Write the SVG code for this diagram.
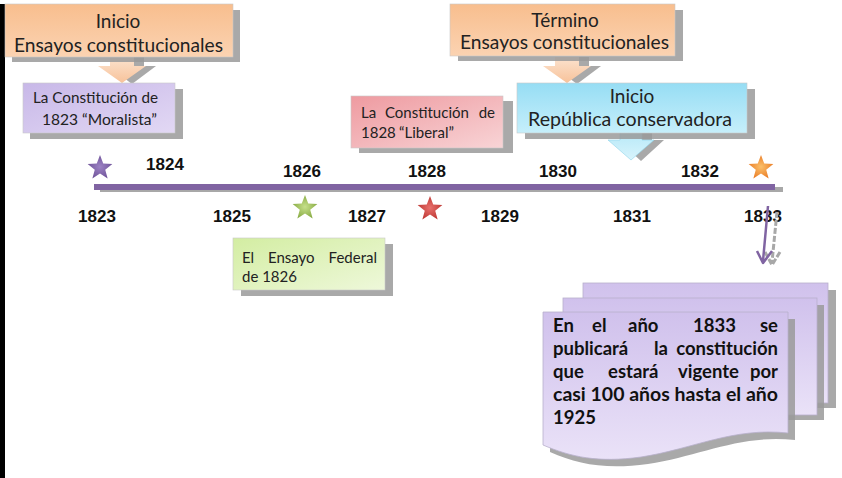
<svg xmlns="http://www.w3.org/2000/svg" width="842" height="478" viewBox="0 0 842 478">
<defs>
<linearGradient id="gOr" x1="0" y1="0" x2="0" y2="1"><stop offset="0" stop-color="#F8BE8E"/><stop offset="1" stop-color="#FBD3B2"/></linearGradient>
<linearGradient id="gOrA" x1="0" y1="0" x2="0" y2="1"><stop offset="0" stop-color="#FCE3CF"/><stop offset="1" stop-color="#F7C29A"/></linearGradient>
<linearGradient id="gPu" x1="0" y1="0" x2="1" y2="1"><stop offset="0" stop-color="#C8B8E8"/><stop offset="1" stop-color="#E2D8F4"/></linearGradient>
<linearGradient id="gPk" x1="0" y1="0" x2="1" y2="1"><stop offset="0" stop-color="#EE9AA0"/><stop offset="1" stop-color="#F8D4D6"/></linearGradient>
<linearGradient id="gBl" x1="0" y1="0" x2="0" y2="1"><stop offset="0" stop-color="#96DDF4"/><stop offset="1" stop-color="#C6EFFB"/></linearGradient>
<linearGradient id="gBlA" x1="0" y1="0" x2="0" y2="1"><stop offset="0" stop-color="#B8E9F8"/><stop offset="1" stop-color="#D8F4FC"/></linearGradient>
<linearGradient id="gGr" x1="0" y1="0" x2="1" y2="1"><stop offset="0" stop-color="#D3EDA2"/><stop offset="1" stop-color="#EEF8DA"/></linearGradient>
<linearGradient id="gDoc" x1="0" y1="0" x2="0" y2="1"><stop offset="0" stop-color="#D0C1EC"/><stop offset="1" stop-color="#EAE2F8"/></linearGradient>
<radialGradient id="gStO" cx="0.5" cy="0.5" r="0.6"><stop offset="0" stop-color="#FBC06A"/><stop offset="1" stop-color="#E8741E"/></radialGradient>
<radialGradient id="gStG" cx="0.5" cy="0.5" r="0.6"><stop offset="0" stop-color="#C6E08A"/><stop offset="1" stop-color="#7FA33A"/></radialGradient>
<radialGradient id="gStR" cx="0.5" cy="0.5" r="0.6"><stop offset="0" stop-color="#E8706C"/><stop offset="1" stop-color="#B8302C"/></radialGradient>
<radialGradient id="gStP" cx="0.5" cy="0.5" r="0.6"><stop offset="0" stop-color="#9C82C4"/><stop offset="1" stop-color="#6A4E94"/></radialGradient>
<path id="star" d="M0,-13 L3.23,-4.45 L12.36,-4.02 L5.23,1.7 L7.64,10.52 L0,5.5 L-7.64,10.52 L-5.23,1.7 L-12.36,-4.02 L-3.23,-4.45 Z"/>
<style>
.sh{fill:#9A9A9A;opacity:0.85}
.bx{stroke:#C8C8C8;stroke-width:0.6}
.t{font-family:Lato,"Open Sans","Noto Sans",sans-serif;fill:#222}
.big{font-size:19px}
.sm{font-size:15px}
.doc{font-size:18.5px;font-weight:bold;fill:#111}
.yr{font-family:"Liberation Sans",Arial,sans-serif;font-weight:bold;font-size:17px;fill:#111;text-anchor:middle}
.mid{text-anchor:middle}
</style>
</defs>
<rect x="0" y="0" width="842" height="478" fill="#FFFFFF"/>
<rect x="0" y="4" width="5" height="474" fill="#000"/>

<g id="timeline">
<rect x="100" y="187" width="683" height="5" fill="#A8A8A8"/>
<rect x="94" y="184" width="681" height="6" fill="#8064A2"/>
</g>

<g id="years">
<text class="yr" x="165" y="170">1824</text>
<text class="yr" x="302" y="177">1826</text>
<text class="yr" x="427" y="177">1828</text>
<text class="yr" x="558" y="177">1830</text>
<text class="yr" x="700" y="177">1832</text>
<text class="yr" x="97" y="222">1823</text>
<text class="yr" x="232" y="222">1825</text>
<text class="yr" x="367" y="222">1827</text>
<text class="yr" x="500" y="222">1829</text>
<text class="yr" x="632" y="222">1831</text>
<text class="yr" x="763" y="222">1833</text>
</g>

<g id="stars">
<use href="#star" x="100" y="168" fill="url(#gStP)"/>
<use href="#star" x="305" y="208" fill="url(#gStG)"/>
<use href="#star" x="430" y="209" fill="url(#gStR)"/>
<use href="#star" x="761" y="168" fill="url(#gStO)"/>
</g>

<g id="connectors">
<g id="arrow-inicio-ensayos">
<path class="sh" d="M120,57 H144 V66 H156 L132,84 L108,66 H120 Z"/>
<path d="M110,57 H134 V66 H146 L122,83 L98,66 H110 Z" fill="url(#gOrA)"/>
</g>
<g id="arrow-termino">
<path class="sh" d="M565,57 H589 V66 H601 L577,84 L553,66 H565 Z"/>
<path d="M555,57 H579 V66 H591 L567,83 L543,66 H555 Z" fill="url(#gOrA)"/>
</g>
<g id="arrow-republica">
<path class="sh" d="M630,133 H652 V140 H664 L641,161 L618,140 H630 Z"/>
<path d="M620,133 H642 V140 H654 L631,160 L608,140 H620 Z" fill="url(#gBlA)" stroke="#8FD3EA" stroke-width="0.6"/>
</g>
<g id="arrow-1833">
<path d="M777,212 L772,262 M765,252 L772,265 L780,252" fill="none" stroke="#A8A8A8" stroke-width="3" stroke-dasharray="6 2"/>
<path d="M768,206 L763,261 M757,251 L763,263 L772,251" fill="none" stroke="#8064A2" stroke-width="2.5" stroke-linejoin="round"/>
</g>
</g>

<g id="node-inicio-ensayos">
<rect class="sh" x="12" y="10" width="228" height="52"/>
<rect class="bx" x="5" y="4" width="228" height="53" fill="url(#gOr)"/>
<text class="t big mid" x="118" y="28">Inicio</text>
<text class="t big" x="14" y="52" textLength="209" lengthAdjust="spacingAndGlyphs">Ensayos constitucionales</text>
</g>

<g id="node-1823">
<rect class="sh" x="30" y="89" width="153" height="50"/>
<rect class="bx" x="23" y="83" width="152" height="50" fill="url(#gPu)"/>
<text class="t sm" x="33" y="103" textLength="125" lengthAdjust="spacingAndGlyphs">La Constitución de</text>
<text class="t sm" x="42" y="125" textLength="115" lengthAdjust="spacingAndGlyphs">1823  “Moralista”</text>
</g>

<g id="node-termino">
<rect class="sh" x="458" y="10" width="225" height="51"/>
<rect class="bx" x="450" y="4" width="225" height="52" fill="url(#gOr)"/>
<text class="t big mid" x="565" y="27">Término</text>
<text class="t big" x="460" y="49" textLength="209" lengthAdjust="spacingAndGlyphs">Ensayos constitucionales</text>
</g>

<g id="node-1828">
<rect class="sh" x="359" y="101" width="154" height="52"/>
<rect class="bx" x="351" y="96" width="152" height="52" fill="url(#gPk)"/>
<text class="t sm" y="118"><tspan x="361">La</tspan><tspan x="385">Constitución</tspan><tspan x="495" text-anchor="end">de</tspan></text>
<text class="t sm" y="138"><tspan x="361">1828</tspan><tspan x="399">“Liberal”</tspan></text>
</g>

<g id="node-republica">
<rect class="sh" x="525" y="89" width="230" height="50"/>
<rect class="bx" x="517" y="83" width="230" height="50" fill="url(#gBl)"/>
<text class="t big mid" x="632" y="103">Inicio</text>
<text class="t big" x="528" y="126" textLength="204" lengthAdjust="spacingAndGlyphs">República conservadora</text>
</g>

<g id="node-1826">
<rect class="sh" x="241" y="244" width="152" height="52"/>
<rect class="bx" x="233" y="238" width="152" height="52" fill="url(#gGr)"/>
<text class="t sm" y="263"><tspan x="242">El</tspan><tspan x="268">Ensayo</tspan><tspan x="377" text-anchor="end">Federal</tspan></text>
<text class="t sm" x="242" y="282">de 1826</text>
</g>

<g id="node-1833-doc">
<rect class="sh" x="590" y="290" width="246" height="118"/>
<rect x="583" y="283" width="245" height="120" fill="url(#gDoc)" stroke="#B8B0CC" stroke-width="0.8"/>
<rect class="sh" x="570" y="305" width="254" height="115"/>
<rect x="563" y="298" width="254" height="117" fill="url(#gDoc)" stroke="#B8B0CC" stroke-width="0.8"/>
<path class="sh" d="M550,319 H795 V440 C740,434 700,456 648,464 C605,470 578,464 550,452 Z"/>
<path d="M543,312 H788 V433 C733,427 693,449 641,457 C598,463 571,457 543,445 Z" fill="url(#gDoc)" stroke="#B8B0CC" stroke-width="0.8"/>
<text class="t doc" y="332"><tspan x="553">En</tspan><tspan x="592">el</tspan><tspan x="628">año</tspan><tspan x="693">1833</tspan><tspan x="778" text-anchor="end">se</tspan></text>
<text class="t doc" y="355"><tspan x="553">publicará</tspan><tspan x="654">la</tspan><tspan x="778" text-anchor="end">constitución</tspan></text>
<text class="t doc" y="378"><tspan x="553">que</tspan><tspan x="608">estará</tspan><tspan x="678">vigente</tspan><tspan x="778" text-anchor="end">por</tspan></text>
<text class="t doc" x="553" y="401" textLength="225" lengthAdjust="spacingAndGlyphs">casi 100 años hasta el año</text>
<text class="t doc" x="553" y="424">1925</text>
</g>
</svg>
